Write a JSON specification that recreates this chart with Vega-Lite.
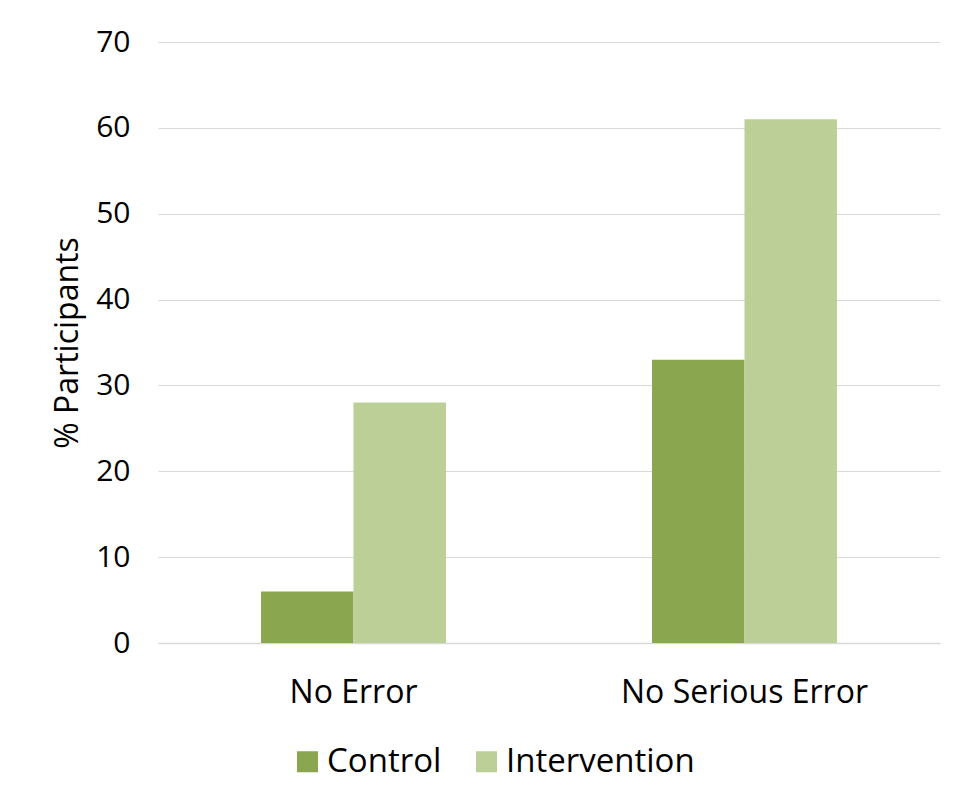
{
  "$schema": "https://vega.github.io/schema/vega-lite/v6.json",
  "width": 782,
  "height": 601,
  "autosize": {"type": "none"},
  "padding": {"left": 158, "top": 42, "right": 17, "bottom": 159},
  "background": "white",
  "config": {
    "font": "Open Sans",
    "view": {"stroke": null},
    "axis": {"labelFont": "Open Sans", "titleFont": "Open Sans", "labelColor": "#000000", "titleColor": "#000000"}
  },
  "data": {
    "values": [
      {"category": "No Error", "group": "Control", "value": 6},
      {"category": "No Error", "group": "Intervention", "value": 28},
      {"category": "No Serious Error", "group": "Control", "value": 33},
      {"category": "No Serious Error", "group": "Intervention", "value": 61}
    ]
  },
  "mark": {"type": "bar"},
  "encoding": {
    "x": {
      "field": "category",
      "type": "nominal",
      "sort": null,
      "scale": {"paddingInner": 0.527, "paddingOuter": 0.2635},
      "axis": {
        "title": null,
        "labelAngle": 0,
        "labelFontSize": 32,
        "labelPadding": 34,
        "labelLimit": 0,
        "ticks": false,
        "domain": true,
        "domainColor": "#D9D9D9",
        "domainWidth": 1.5,
        "grid": false
      }
    },
    "xOffset": {"field": "group", "type": "nominal", "scale": {"padding": 0}},
    "y": {
      "field": "value",
      "type": "quantitative",
      "scale": {"domain": [0, 70], "nice": false},
      "axis": {
        "title": "% Participants",
        "titleFontSize": 32,
        "titleFontWeight": "normal",
        "titlePadding": 11,
        "labelFontSize": 30,
        "labelPadding": 28,
        "values": [0, 10, 20, 30, 40, 50, 60, 70],
        "ticks": false,
        "domain": false,
        "grid": true,
        "gridColor": "#D9D9D9",
        "gridWidth": 1.2
      }
    },
    "color": {
      "field": "group",
      "type": "nominal",
      "scale": {"domain": ["Control", "Intervention"], "range": ["#8AA64E", "#BBCF97"]},
      "legend": {
        "title": null,
        "orient": "none",
        "direction": "horizontal",
        "legendX": 133,
        "legendY": 703,
        "symbolType": "square",
        "symbolSize": 441,
        "symbolStrokeWidth": 0,
        "labelFontSize": 33,
        "labelLimit": 0,
        "labelColor": "#000000",
        "labelOffset": 3,
        "columnPadding": 28
      }
    }
  }
}
